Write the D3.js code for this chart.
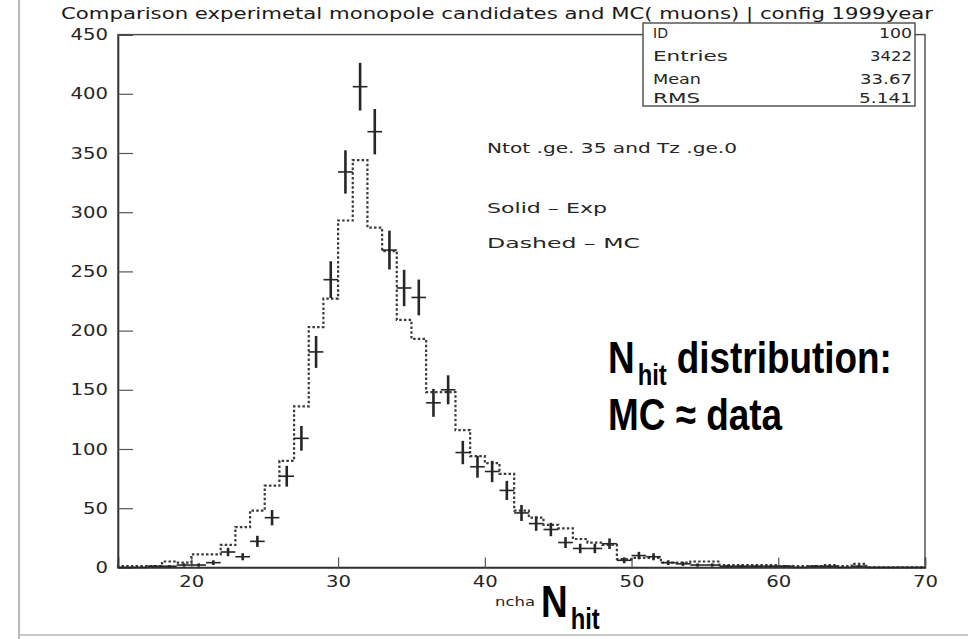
<!DOCTYPE html>
<html>
<head>
<meta charset="utf-8">
<script src="https://cdn.jsdelivr.net/npm/d3@7"></script>
<style>
  html, body { margin: 0; padding: 0; background: #fff; }
  svg { display: block; }
</style>
</head>
<body>
<svg id="chart" width="968" height="639"></svg>
<script>
// ---------- data ----------
const binLowEdges = [15,16,17,18,19,20,21,22,23,24,25,26,27,28,29,30,31,32,33,34,35,36,37,38,39,40,41,42,43,44,45,46,47,48,49,50,51,52,53,54,55,56,57,58,59,60,61,62,63,64,65,66,67,68,69];
const expCounts = [0,0,1,1,2,2,4,13,9,22,42,77,109,182,243,334,406,368,268,236,228,139,150,97,85,81,65,46,37,32,21,16,16,20,6,10,9,4,3,2,2,1,1,1,1,1,0,1,1,0,1,0,0,0,0];
const mcCounts  = [1,1,1,5,4,11,11,19,34,48,69,90,136,203,227,293,344,287,267,209,193,148,148,116,94,88,79,48,42,36,33,24,21,19,7,8,8,4,4,5,5,2,2,2,2,1,1,1,2,1,3,0,0,0,0];
const xMajorTicks = [20,30,40,50,60,70];
const yMajorTicks = [0,50,100,150,200,250,300,350,400,450];
const xMinorTicks = [16,18,20,22,24,26,28,30,32,34,36,38,40,42,44,46,48,50,52,54,56,58,60,62,64,66,68,70];
const yMinorTicks = [10,20,30,40,60,70,80,90,110,120,130,140,160,170,180,190,210,220,230,240,260,270,280,290,310,320,330,340,360,370,380,390,410,420,430,440];
const titleText = "Comparison experimetal monopole candidates and MC( muons) | config 1999year";
const statsLabels = ["ID","Entries","Mean","RMS"];
const statsValues = ["100","3422","33.67","5.141"];
const notes = ["Ntot .ge. 35 and Tz .ge.0","Solid \u2013 Exp","Dashed \u2013 MC"];

// ---------- setup ----------
const svg = d3.select("#chart");
const rootFont = "'DejaVu Sans', 'Verdana', sans-serif";
const boldFont = "'Liberation Sans Narrow', 'Arial Narrow', 'Liberation Sans', Arial, sans-serif";
const ink = "#262626";
const squeeze = 0.82;   // condensed look for the bold overlay text

const x = d3.scaleLinear().domain([15, 70]).range([118, 925]);
const y = d3.scaleLinear().domain([0, 450]).range([567.4, 34.6]);

// outer page border lines
svg.append("line").attr("x1", 19).attr("x2", 19).attr("y1", 0).attr("y2", 639)
  .attr("stroke", "#b8b8b8").attr("stroke-width", 2);
svg.append("line").attr("x1", 19).attr("x2", 968).attr("y1", 635).attr("y2", 635)
  .attr("stroke", "#c8c8c8").attr("stroke-width", 2);

// title
svg.append("text").attr("x", 497).attr("y", 19)
  .attr("text-anchor", "middle")
  .attr("font-family", rootFont).attr("font-size", 16).attr("fill", "#1a1a1a")
  .attr("textLength", 872).attr("lengthAdjust", "spacingAndGlyphs")
  .text(titleText);

// frame
svg.append("rect")
  .attr("x", x(15)).attr("y", y(450))
  .attr("width", x(70) - x(15)).attr("height", y(0) - y(450))
  .attr("fill", "none").attr("stroke", "#4a4a4a").attr("stroke-width", 1.4);

// axes
const gx = svg.append("g").attr("transform", `translate(0,${y(0)})`);
gx.call(d3.axisBottom(x).tickValues(xMinorTicks).tickSize(-5).tickFormat(""));
gx.call(d3.axisBottom(x).tickValues(xMajorTicks).tickSize(-10).tickPadding(8).tickFormat(d3.format("d")));
gx.selectAll(".domain").attr("stroke", "#333").attr("stroke-width", 1.6);
gx.selectAll(".tick line").attr("stroke", "#555").attr("stroke-width", 1.2);
gx.selectAll(".tick text")
  .attr("font-family", rootFont).attr("font-size", 16).attr("fill", ink)
  .attr("textLength", d => String(d).length * 12.5).attr("lengthAdjust", "spacingAndGlyphs");

const gy = svg.append("g").attr("transform", `translate(${x(15)},0)`);
gy.call(d3.axisLeft(y).tickValues(yMinorTicks).tickSize(-8).tickFormat(""));
gy.call(d3.axisLeft(y).tickValues(yMajorTicks).tickSize(-15).tickPadding(10).tickFormat(d3.format("d")));
gy.selectAll(".domain").attr("stroke", "#333").attr("stroke-width", 1.6);
gy.selectAll(".tick line").attr("stroke", "#555").attr("stroke-width", 1.2);
gy.selectAll(".tick text")
  .attr("font-family", rootFont).attr("font-size", 16).attr("fill", ink)
  .attr("textLength", d => String(d).length * 12.5).attr("lengthAdjust", "spacingAndGlyphs");

// MC histogram (dashed / dotted step line)
const mcPts = [[binLowEdges[0], 0]].concat(binLowEdges.map((e, i) => [e, mcCounts[i]]));
mcPts.push([binLowEdges[binLowEdges.length - 1] + 1, mcCounts[mcCounts.length - 1]]);
const step = d3.line().x(d => x(d[0])).y(d => y(d[1])).curve(d3.curveStepAfter);
svg.append("path").attr("d", step(mcPts))
  .attr("fill", "none").attr("stroke", "#3a3a3a").attr("stroke-width", 2.2)
  .attr("stroke-dasharray", "2.5,2.2");

// experimental data points with error bars
const pts = svg.append("g");
binLowEdges.forEach((e, i) => {
  const v = expCounts[i];
  const err = Math.sqrt(v);
  const cx = x(e + 0.5);
  pts.append("line").attr("x1", x(e)).attr("x2", x(e + 1)).attr("y1", y(v)).attr("y2", y(v))
    .attr("stroke", ink).attr("stroke-width", 1.6);
  if (v > 0) {
    pts.append("line").attr("x1", cx).attr("x2", cx).attr("y1", y(v + err)).attr("y2", y(v - err))
      .attr("stroke", ink).attr("stroke-width", 2.6);
  }
});

// stats box
const sb = svg.append("g");
sb.append("rect").attr("x", 643).attr("y", 23).attr("width", 272).attr("height", 83)
  .attr("fill", "#fff").attr("stroke", "#4a4a4a").attr("stroke-width", 1.4);
const rowY = [38, 61, 83.5, 103];
const labLen = [15, 75, 48, 47];
const valLen = [33, 42, 52, 53];
statsLabels.forEach((t, i) => {
  sb.append("text").attr("x", 653).attr("y", rowY[i])
    .attr("font-family", rootFont).attr("font-size", 14).attr("fill", ink)
    .attr("textLength", labLen[i]).attr("lengthAdjust", "spacingAndGlyphs").text(t);
  sb.append("text").attr("x", 912).attr("y", rowY[i]).attr("text-anchor", "end")
    .attr("font-family", rootFont).attr("font-size", 14).attr("fill", ink)
    .attr("textLength", valLen[i]).attr("lengthAdjust", "spacingAndGlyphs").text(statsValues[i]);
});

// annotations
const noteY = [153, 213, 248];
const noteLen = [250, 120, 153];
notes.forEach((t, i) => {
  svg.append("text").attr("x", 487).attr("y", noteY[i])
    .attr("font-family", rootFont).attr("font-size", 14).attr("fill", ink)
    .attr("textLength", noteLen[i]).attr("lengthAdjust", "spacingAndGlyphs").text(t);
});

// condensed bold text helper: returns rendered width
function boldText(g, x0, yBase, size, str) {
  const t = g.append("text").attr("x", x0).attr("y", yBase)
    .attr("font-family", boldFont).attr("font-weight", "bold").attr("font-size", size).attr("fill", "#000")
    .text(str);
  const w = t.node().getComputedTextLength() * squeeze;
  t.attr("textLength", w).attr("lengthAdjust", "spacingAndGlyphs");
  return w;
}
function nhit(g, x0, yBase, rest) {
  const w1 = boldText(g, x0, yBase, 45, "N");
  const w2 = boldText(g, x0 + w1 + 3, yBase + 12, 29, "hit");
  if (rest) boldText(g, x0 + w1 + 3 + w2 + 10, yBase, 45, rest);
}

// big overlay text
nhit(svg, 608, 373, "distribution:");
boldText(svg, 608, 430, 45, "MC \u2248 data");

// x-axis title
svg.append("text").attr("x", 495).attr("y", 606)
  .attr("font-family", rootFont).attr("font-size", 12).attr("fill", ink)
  .attr("textLength", 40).attr("lengthAdjust", "spacingAndGlyphs").text("ncha");
nhit(svg, 541, 617, null);
</script>
</body>
</html>
